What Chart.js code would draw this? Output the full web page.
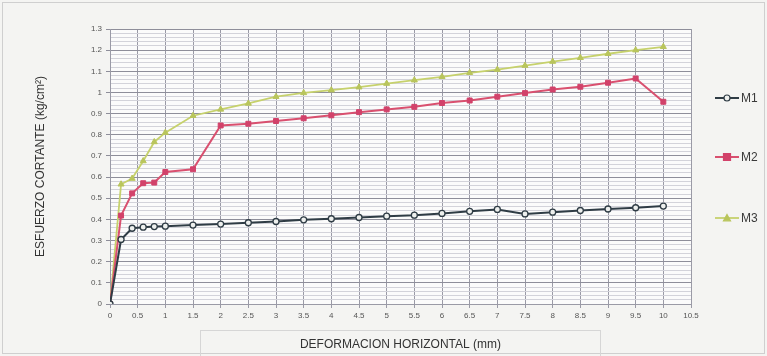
<!DOCTYPE html>
<html>
<head>
<meta charset="utf-8">
<script src="https://cdn.jsdelivr.net/npm/chart.js@4/dist/chart.umd.min.js"></script>
<style>
  html, body { margin: 0; padding: 0; background: #f4f4f2; }
  #wrap { width: 767px; height: 356px; position: relative; }
</style>
</head>
<body>
<div id="wrap"><canvas id="chart" width="767" height="356"></canvas></div>
<script>
// data
const deform = [0, 0.2, 0.4, 0.6, 0.8, 1, 1.5, 2, 2.5, 3, 3.5, 4, 4.5, 5, 5.5, 6, 6.5, 7, 7.5, 8, 8.5, 9, 9.5, 10];
const m1 = [0, 0.305, 0.358, 0.363, 0.366, 0.368, 0.373, 0.378, 0.384, 0.39, 0.398, 0.403, 0.409, 0.415, 0.42, 0.428, 0.438, 0.447, 0.426, 0.434, 0.442, 0.449, 0.455, 0.463];
const m2 = [0, 0.418, 0.523, 0.571, 0.574, 0.624, 0.637, 0.844, 0.852, 0.865, 0.878, 0.892, 0.907, 0.92, 0.932, 0.95, 0.962, 0.98, 0.997, 1.014, 1.027, 1.046, 1.066, 0.956];
const m3 = [0, 0.566, 0.593, 0.676, 0.766, 0.81, 0.89, 0.92, 0.948, 0.98, 0.998, 1.011, 1.025, 1.042, 1.058, 1.074, 1.093, 1.108, 1.127, 1.146, 1.164, 1.183, 1.2, 1.216];
const seriesNames = ['M1', 'M2', 'M3'];

const xTitle = 'DEFORMACION HORIZONTAL (mm)';
const yTitle = 'ESFUERZO CORTANTE (kg/cm²)';
const fontFam = '"Liberation Sans", Arial, sans-serif';

function pts(ys){ return deform.map((x,i)=>({ x, y: ys[i] })); }

function isMajor(v){ return Math.abs(v*10 - Math.round(v*10)) < 1e-6; }

// background, plot area and the box round the x title
const backdrop = {
  id: 'backdrop',
  beforeDraw(chart){
    const { ctx, chartArea: a } = chart;
    ctx.save();
    ctx.fillStyle = '#f4f4f2';
    ctx.fillRect(0, 0, chart.width, chart.height);
    ctx.fillStyle = '#fbfbfb';
    ctx.fillRect(a.left, a.top, a.right - a.left, a.bottom - a.top);
    ctx.strokeStyle = '#cfcfcf';
    ctx.lineWidth = 1;
    ctx.strokeRect(2.5, 2.5, chart.width - 5, chart.height - 5);
    ctx.strokeStyle = '#d6d6d6';
    ctx.strokeRect(200.5, 330.5, 400, 30);
    ctx.restore();
  }
};

// Excel-like legend: line with marker in the middle, spaced out on the right
const sideLegend = {
  id: 'sideLegend',
  afterDraw(chart){
    const { ctx } = chart;
    const ys = [98, 157, 218];
    ctx.save();
    chart.data.datasets.forEach((ds, i) => {
      const y = ys[i];
      ctx.strokeStyle = ds.borderColor;
      ctx.lineWidth = ds.borderWidth;
      ctx.beginPath(); ctx.moveTo(715, y); ctx.lineTo(739, y); ctx.stroke();
      ctx.fillStyle = ds.pointBackgroundColor;
      ctx.strokeStyle = ds.pointBorderColor;
      ctx.lineWidth = 1.2;
      const cx = 727, r = ds.pointRadius;
      ctx.beginPath();
      if (ds.pointStyle === 'rect') ctx.rect(cx - r, y - r, r*2, r*2);
      else if (ds.pointStyle === 'triangle') { ctx.moveTo(cx, y - r); ctx.lineTo(cx + r, y + r*0.8); ctx.lineTo(cx - r, y + r*0.8); ctx.closePath(); }
      else ctx.arc(cx, y, r, 0, Math.PI*2);
      ctx.fill(); ctx.stroke();
      ctx.fillStyle = '#3a3a3a';
      ctx.font = '12px ' + fontFam;
      ctx.textBaseline = 'middle';
      ctx.fillText(ds.label, 741, y + 1);
    });
    ctx.restore();
  }
};

new Chart(document.getElementById('chart'), {
  type: 'line',
  data: {
    datasets: [
      { label: seriesNames[0], data: pts(m1), borderColor: '#2f3c45', borderWidth: 2,
        pointStyle: 'circle', pointRadius: 3, pointBackgroundColor: '#eef0ee', pointBorderColor: '#2f3c45', pointBorderWidth: 1.3 },
      { label: seriesNames[1], data: pts(m2), borderColor: '#d9506f', borderWidth: 2,
        pointStyle: 'rect', pointRadius: 3.5, pointBackgroundColor: '#d2426a', pointBorderColor: '#d2426a', pointBorderWidth: 1 },
      { label: seriesNames[2], data: pts(m3), borderColor: '#c6d16c', borderWidth: 1.8,
        pointStyle: 'triangle', pointRadius: 3.5, pointBackgroundColor: '#b9c55c', pointBorderColor: '#b9c55c', pointBorderWidth: 1 }
    ]
  },
  options: {
    responsive: false,
    animation: false,
    layout: { padding: { top: 29, right: 76, bottom: 0, left: 0 } },
    plugins: { legend: { display: false }, tooltip: { enabled: false } },
    scales: {
      x: {
        type: 'linear', min: 0, max: 10.5,
        ticks: { stepSize: 0.5, color: '#555', font: { size: 8, family: fontFam }, padding: 3, maxRotation: 0,
          callback: v => String(Math.round(v*10)/10) },
        grid: { color: '#9a9aa6', lineWidth: 1, tickLength: 4, tickColor: '#9a9aa6' },
        border: { color: '#9a9aa6' },
        title: { display: true, text: xTitle, color: '#333', font: { size: 12, family: fontFam }, padding: { top: 4, bottom: 4 } },
        afterFit: s => { s.height = 52; }
      },
      y: {
        min: 0, max: 1.3,
        ticks: { stepSize: 0.02, autoSkip: false, color: '#555', font: { size: 8, family: fontFam }, padding: 4,
          callback: v => isMajor(v) ? String(Math.round(v*10)/10) : '' },
        grid: {
          color: c => isMajor(c.tick.value) ? '#8e8e9a' : '#d3d3da',
          lineWidth: 1, tickLength: 4,
          tickColor: c => isMajor(c.tick.value) ? '#8e8e9a' : 'rgba(0,0,0,0)'
        },
        border: { color: '#9a9aa6' },
        title: { display: true, text: yTitle, color: '#333', font: { size: 12, family: fontFam }, padding: { top: 33, bottom: 33 } },
        afterFit: s => { s.width = 110; }
      }
    }
  },
  plugins: [backdrop, sideLegend]
});
</script>
</body>
</html>
